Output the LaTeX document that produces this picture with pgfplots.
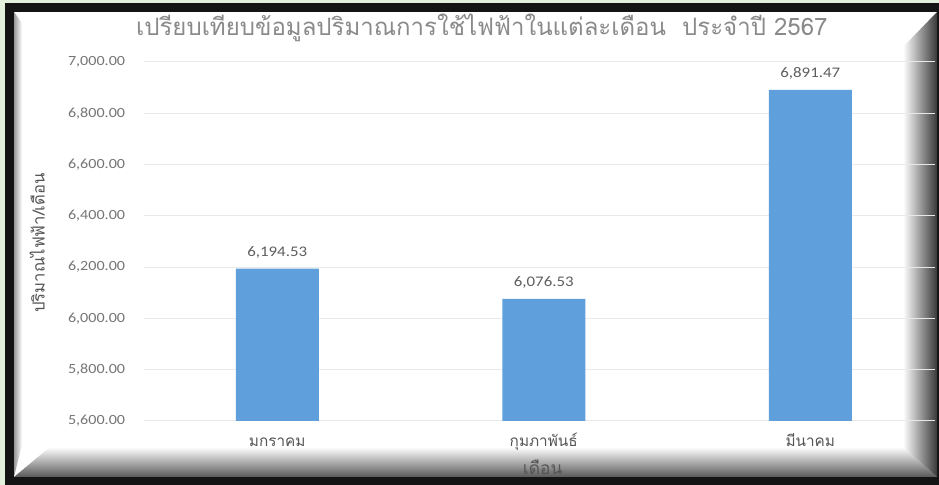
\documentclass[border=0pt]{standalone}
\usepackage{fontspec}
\setmainfont{Carlito}[FakeStretch=1.15]
\newfontfamily\thaifont[Script=Thai]{Loma}
\usepackage{pgfplots}
\pgfplotsset{compat=1.18}

\definecolor{framegreen}{HTML}{E3F0DB}
\definecolor{barblue}{HTML}{5FA0DC}
\definecolor{gridgray}{HTML}{E9E9E9}
\definecolor{tickgray}{HTML}{767676}
\definecolor{datagray}{HTML}{5E5E5E}
\definecolor{titlegray}{HTML}{8A8A8A}
\definecolor{labgray}{HTML}{555555}

\begin{document}
\begin{tikzpicture}
\useasboundingbox (0,0) rectangle (704.25pt,363.75pt);
% screenshot frame, in pixels of the reference
\begin{scope}[x=0.75pt,y=0.75pt]
\fill[framegreen] (0,0) rectangle (939,485);
\fill[black!92] (5,0) rectangle (939,482);
\fill[white] (14,8) rectangle (937,473);
\shade[left color=black!40, right color=white] (14,473) -- (22,462) -- (22,40) -- (14,8) -- cycle;
\shade[top color=white, bottom color=black!65] (14,8) -- (50,38) -- (903,38) -- (937,8) -- cycle;
\shade[left color=white, right color=black!78] (903,38) -- (903,438) -- (937,473) -- (937,8) -- cycle;
\end{scope}

\begin{axis}[
    at={(108pt,48pt)}, anchor=south west,
    scale only axis,
    width=593.25pt, height=269.25pt,
    ybar, bar width=62.25pt,
    xmin=-0.5, xmax=2.468,
    ymin=5600, ymax=7000,
    ytick={5600,5800,...,7000},
    scaled y ticks=false,
    xtick={0,1,2},
    xticklabels={มกราคม,กุมภาพันธ์,มีนาคม},
    xticklabel style={font=\thaifont\fontsize{11.5}{13}\selectfont, text=labgray,
        anchor=base, inner sep=0pt, yshift=-19.5pt},
    yticklabel style={anchor=east, inner sep=0pt, xshift=-14pt,
        font=\fontsize{10.5}{12}\selectfont, text=tickgray},
    /pgf/number format/fixed,
    /pgf/number format/fixed zerofill,
    /pgf/number format/precision=2,
    /pgf/number format/1000 sep={,},
    /pgf/number format/assume math mode=true,
    ymajorgrids,
    grid style={gridgray, line width=0.75pt},
    axis line style={draw=none},
    major tick length=0pt,
    nodes near coords,
    nodes near coords style={anchor=base, inner sep=0pt, yshift=9pt,
        font=\fontsize{11}{13}\selectfont, text=datagray},
    title={เปรียบเทียบข้อมูลปริมาณการใช้ไฟฟ้าในแต่ละเดือน~~ประจำปี 2567},
    title style={at={(axis description cs:0.427,1.073)}, anchor=center,
        font=\thaifont\fontsize{18}{21}\selectfont, text=titlegray},
    xlabel={เดือน},
    every axis x label/.style={at={(axis description cs:0.504,-0.128)}, anchor=center,
        font=\thaifont\fontsize{13}{15}\selectfont, text=labgray},
    ylabel={ปริมาณไฟฟ้า/เดือน},
    every axis y label/.style={at={(axis description cs:-0.135,0.496)}, rotate=90, anchor=center,
        font=\thaifont\fontsize{12.5}{14}\selectfont, text=labgray},
]
\addplot[fill=barblue, draw=none] coordinates {(0,6194.53) (1,6076.53) (2,6891.47)};
\end{axis}
\end{tikzpicture}
\end{document}
